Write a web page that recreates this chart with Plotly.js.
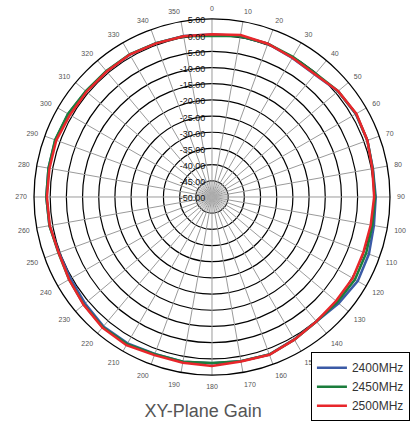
<!DOCTYPE html>
<html>
<head>
<meta charset="utf-8">
<script src="https://cdn.plot.ly/plotly-3.0.1.min.js"></script>
<style>html,body{margin:0;padding:0;background:#fff;}#chart{width:412px;height:423px;}</style>
</head>
<body>
<div id="chart"></div>
<script>
// Angles (degrees), 0 at top, clockwise
const angles = [0,10,20,30,40,50,60,70,80,90,100,110,120,130,140,150,160,170,180,190,200,210,220,230,240,250,260,270,280,290,300,310,320,330,340,350,360];
// Gain (dB)
const gain2400 = [0.2,0.5,0.4,-0.4,-0.6,0.8,1.3,1.1,0.5,0.6,0.8,1.6,2.0,1.1,0.2,0.8,1.8,1.5,1.4,1.7,1.6,2.2,2.2,1.2,0.5,0.3,1.0,1.2,1.3,1.5,1.3,0.8,0.7,0.8,0.6,0.5,0.2];
const gain2450 = [-0.2,0.4,0.4,0.0,-0.2,0.9,1.4,1.1,0.4,0.4,0.3,0.7,1.0,0.5,0.2,0.9,1.8,1.5,1.3,1.7,1.7,2.5,2.5,1.7,1.0,0.5,1.0,1.2,1.3,1.6,1.4,0.9,0.8,0.9,0.6,0.4,-0.2];
const gain2500 = [0.3,0.8,0.4,-0.3,-0.5,0.9,1.5,1.1,0.3,0.1,-0.2,-0.2,0.2,0.0,0.2,0.9,1.9,1.6,2.2,2.0,2.0,2.9,2.7,1.8,1.0,0.4,0.9,1.0,1.0,1.2,0.7,0.6,0.6,0.8,0.5,0.4,0.3];
const seriesNames = ["2400MHz","2450MHz","2500MHz"];
const seriesColors = ["#3b5aa6","#1b7d3c","#e8262b"];
const radialTicks = [-50,-45,-40,-35,-30,-25,-20,-15,-10,-5,0,5];
const angleTicks = [0,10,20,30,40,50,60,70,80,90,100,110,120,130,140,150,160,170,180,190,200,210,220,230,240,250,260,270,280,290,300,310,320,330,340,350];
const title = "XY-Plane Gain";

// grid decoration: spokes every 10 degrees, denser spokes near centre
const spokeR = [], spokeT = [];
angleTicks.forEach(a => { spokeR.push(-50, 5, null); spokeT.push(a, a, null); });
const hubR = [], hubT = [];
for (let a = 5; a < 360; a += 10) { hubR.push(-50, -45, null); hubT.push(a, a, null); }

const traces = [
  {type: 'scatterpolar', mode: 'lines', r: spokeR, theta: spokeT,
   line: {color: '#9a9a9a', width: 1}, showlegend: false, hoverinfo: 'skip', connectgaps: false},
  {type: 'scatterpolar', mode: 'lines', r: hubR, theta: hubT,
   line: {color: '#b0b0b0', width: 0.7}, showlegend: false, hoverinfo: 'skip', connectgaps: false}
];
[gain2400, gain2450, gain2500].forEach((g, i) => {
  traces.push({
    type: 'scatterpolar', mode: 'lines', r: g, theta: angles, name: seriesNames[i],
    line: {color: seriesColors[i], width: 2.5}
  });
});

const layout = {
  width: 412, height: 423,
  margin: {l: 0, r: 0, t: 0, b: 0},
  paper_bgcolor: '#fff',
  font: {family: 'Liberation Sans, Arial, sans-serif', color: '#333'},
  showlegend: true,
  legend: {x: 0.995, y: 0.004, xanchor: 'right', yanchor: 'bottom', bordercolor: '#000', borderwidth: 1,
           bgcolor: '#fff', font: {size: 12, color: '#333'}, tracegroupgap: 0, itemwidth: 30},
  title: {text: title, x: 0.493, xanchor: 'center', y: 0.03, yanchor: 'middle',
          font: {family: 'Liberation Sans, Arial, sans-serif', size: 18, color: '#555'}},
  polar: {
    domain: {x: [0.0825, 0.9466], y: [0.1135, 0.9551]},
    bgcolor: '#fff',
    angularaxis: {rotation: 90, direction: 'clockwise', tickmode: 'array', tickvals: angleTicks,
                  ticktext: angleTicks.map(String),
                  showgrid: false, showline: true, linecolor: '#000', linewidth: 1.3,
                  ticks: 'outside', ticklen: 5, tickcolor: 'rgba(0,0,0,0)', tickfont: {size: 7, color: '#555'}},
    radialaxis: {range: [-50, 5], tickvals: radialTicks, ticktext: radialTicks.map(v => v.toFixed(2)),
                 angle: 90, side: 'counterclockwise', showline: false, showgrid: true, gridcolor: '#000', gridwidth: 1.2,
                 ticks: '', tickfont: {size: 9, color: '#111'}, layer: 'above traces'}
  }
};
Plotly.newPlot('chart', traces, layout, {displayModeBar: false, staticPlot: true});
</script>
</body>
</html>
